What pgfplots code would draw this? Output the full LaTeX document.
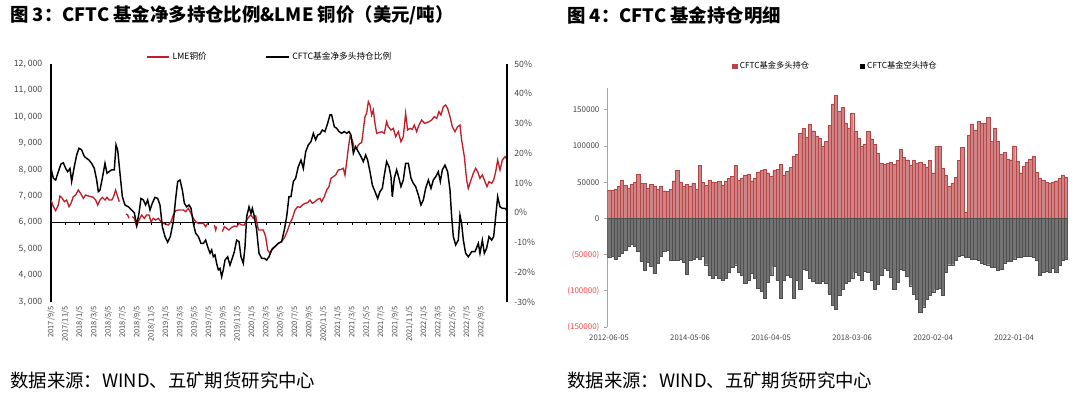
\documentclass[border=0pt]{standalone}
\usepackage{pgfplots}
\usepackage{pgfplotstable}
\pgfplotsset{compat=1.18}
\usepackage{fontspec}
\setmainfont{Noto Sans CJK SC}
\definecolor{lmered}{RGB}{192,30,40}
\definecolor{longfill}{RGB}{208,132,134}
\definecolor{longedge}{RGB}{180,70,72}
\definecolor{shortfill}{RGB}{115,115,115}
\definecolor{shortedge}{RGB}{78,78,78}
\definecolor{axgray}{RGB}{165,165,165}
\definecolor{negred}{RGB}{250,70,70}
\definecolor{lblgray}{RGB}{70,70,70}

\pgfplotstableread{
m p
0.00 6857
0.33 6605
0.65 6454
1.02 6668
1.25 7009
1.58 6920
1.86 6794
2.18 6857
2.51 6605
2.79 6731
3.11 6983
3.44 7046
3.81 7236
4.18 7084
4.51 6920
4.83 7046
5.21 7009
5.58 6983
5.90 6958
6.23 6857
6.51 6668
6.83 6857
7.16 6958
7.53 6857
7.81 6958
8.09 6857
8.46 6857
8.69 6958
9.02 7236
9.30 6983
9.53 6794
10.00 nan
10.46 6328
10.69 6290
10.88 6164
11.10 nan
11.34 6227
11.62 6164
11.95 5849
12.27 6101
12.65 6290
13.02 6164
13.34 6290
13.67 6290
13.95 6038
14.27 6164
14.60 6101
14.97 6164
15.34 6038
15.67 5975
15.99 5950
16.36 5912
16.74 6038
17.06 6290
17.39 6454
17.76 6479
18.13 6479
18.46 6479
18.78 6416
19.15 6542
19.53 6353
19.85 6164
20.18 6038
20.55 5975
20.92 5975
21.25 5975
21.57 5849
21.85 5975
22.30 nan
22.78 5912
22.97 5723
23.10 5849
23.50 nan
23.90 5660
24.18 5849
24.50 5786
24.83 5723
25.20 5824
25.57 5874
25.89 5849
26.22 5975
26.59 5912
26.96 5912
27.29 6101
27.62 6227
27.89 6290
28.22 6164
28.55 6252
28.92 5723
29.29 5723
29.61 5723
29.94 5471
30.22 4967
30.54 4840
30.87 5030
31.24 5093
31.70 5219
32.17 5282
32.63 5471
33.01 5723
33.33 5975
33.66 6164
34.03 6479
34.40 6605
34.73 6580
35.05 6668
35.42 6731
35.80 6757
36.12 6857
36.45 6731
36.82 6794
37.19 6883
37.52 6920
37.75 6794
38.12 6983
38.45 7236
38.77 7362
39.05 7677
39.38 7740
39.70 7803
40.07 7992
40.45 8017
40.77 8055
41.00 7803
41.24 8307
41.47 8811
41.70 9252
42.03 9126
42.30 8811
42.63 8811
42.86 8937
43.09 9000
43.33 9025
43.56 9504
43.79 10009
44.02 10135
44.26 10576
44.49 10450
44.72 10071
44.95 10261
45.19 9756
45.42 9378
45.74 9403
46.12 9441
46.49 9378
46.81 9819
47.05 9630
47.42 9504
47.74 9567
48.07 9252
48.44 9441
48.81 9063
49.14 9252
49.46 10135
49.74 9504
50.07 9567
50.39 9530
50.67 9693
51.00 9441
51.32 9693
51.70 9882
52.07 9756
52.39 9782
52.72 9819
53.09 9882
53.46 10009
53.79 9945
54.11 10198
54.39 10071
54.72 10387
55.04 10450
55.32 10324
55.65 10009
55.97 9630
56.34 9441
56.72 9630
57.04 9693
57.27 9126
57.65 8496
57.97 7614
58.20 7299
58.58 7614
58.90 7866
59.23 8055
59.51 7929
59.83 7677
60.16 7803
60.53 7551
60.81 7362
61.09 7551
61.46 7488
61.74 7614
62.02 7929
62.30 8370
62.62 7992
62.95 8370
63.32 8496
63.60 8395
}\lmedata

\pgfplotstableread{
m r
0.00 14.9
0.33 11.6
0.65 11.0
1.02 13.8
1.39 16.4
1.72 16.8
2.05 14.9
2.32 13.8
2.65 14.9
2.88 10.5
3.25 15.5
3.58 19.4
3.90 21.7
4.28 21.1
4.65 18.9
4.97 18.3
5.30 17.7
5.67 16.6
6.04 14.9
6.37 11.0
6.60 7.1
6.83 7.6
7.16 11.6
7.53 16.6
7.81 13.3
8.09 13.8
8.46 14.4
8.83 14.4
9.07 22.8
9.30 21.1
9.62 13.3
9.95 5.4
10.32 2.6
10.79 2.0
11.25 0.9
11.62 0.0
11.95 -4.1
12.27 -0.2
12.55 4.8
12.88 4.3
13.20 2.6
13.48 4.3
13.81 0.9
14.13 3.2
14.50 5.2
14.88 4.8
15.20 2.6
15.53 -4.7
15.90 -8.0
16.27 -9.9
16.64 -8.0
17.06 -3.0
17.39 4.8
17.67 10.5
17.99 11.0
18.32 7.6
18.60 3.2
18.92 2.0
19.25 2.6
19.53 1.5
19.85 -3.6
20.18 -6.9
20.55 -8.0
20.92 -10.3
21.25 -10.3
21.57 -9.2
21.85 -11.4
22.18 -13.6
22.41 -12.5
22.64 -14.8
22.87 -14.2
23.10 -17.0
23.34 -19.2
23.57 -18.7
23.80 -21.5
24.03 -19.2
24.27 -15.9
24.64 -14.8
24.96 -17.6
25.20 -15.9
25.57 -13.1
25.89 -9.2
26.22 -9.7
26.50 -14.8
26.82 -17.0
27.06 -11.4
27.29 -1.3
27.62 2.0
27.89 -0.2
28.08 1.5
28.36 -1.3
28.68 -5.8
29.01 -13.6
29.38 -15.3
29.75 -15.3
30.08 -15.9
30.40 -14.8
30.78 -12.5
31.24 -11.4
31.70 -10.3
32.17 -9.7
32.54 -5.8
32.87 -1.3
33.19 5.4
33.47 5.4
33.80 10.5
34.12 11.6
34.49 15.5
34.87 17.7
35.19 14.9
35.52 20.5
35.89 22.8
36.26 23.9
36.59 26.7
36.91 24.5
37.19 26.1
37.52 26.5
37.84 27.8
38.21 27.3
38.59 30.1
38.91 32.9
39.14 32.9
39.52 28.9
39.84 28.4
40.17 27.3
40.54 26.7
40.91 27.3
41.24 26.7
41.56 27.3
41.84 26.1
42.17 20.0
42.49 22.2
42.86 20.5
43.23 18.9
43.56 17.2
43.89 19.4
44.16 17.7
44.49 13.8
44.82 9.3
45.19 7.1
45.56 4.8
45.88 7.1
46.21 8.2
46.49 12.7
46.81 17.2
47.14 15.5
47.42 12.1
47.60 5.4
47.88 11.6
48.21 14.4
48.53 11.6
48.81 8.8
49.14 11.0
49.46 16.6
49.84 16.6
50.21 11.6
50.53 9.9
50.86 8.8
51.23 6.0
51.60 2.6
51.93 4.3
52.25 8.2
52.63 11.0
53.00 8.2
53.32 11.0
53.65 12.1
54.02 13.8
54.30 10.5
54.58 14.4
54.95 16.0
55.32 13.8
55.65 7.6
55.88 -1.3
56.11 -8.0
56.44 -10.8
56.81 -9.2
57.04 -0.8
57.27 -3.6
57.51 -9.2
57.83 -13.6
58.20 -14.8
58.67 -13.1
59.13 -13.1
59.60 -10.3
59.83 -13.6
60.16 -9.2
60.44 -13.6
60.76 -11.9
61.09 -8.0
61.46 -9.2
61.74 -8.0
62.02 -1.3
62.30 5.4
62.62 2.0
62.95 1.5
63.32 1.5
63.60 0.7
}\cftcratio

\pgfplotstableread{
w l s
0 39000 -54000
4 39000 -52000
8 40000 -56000
12 44000 -52000
16 53000 -48000
20 46000 -44000
24 41000 -38000
28 47000 -36000
32 50000 -38000
36 61000 -45000
40 48000 -59000
44 48000 -72000
48 42000 -60000
52 47000 -66000
56 45000 -76000
60 40000 -62000
64 45000 -52000
68 38000 -45000
72 38000 -44000
76 40000 -58000
80 52000 -58000
84 66000 -58000
88 50000 -56000
92 45000 -60000
96 47000 -77000
100 45000 -58000
104 49000 -57000
108 40000 -54000
112 73000 -57000
116 50000 -52000
120 46000 -64000
124 53000 -78000
128 50000 -82000
132 50000 -78000
136 51000 -83000
140 46000 -86000
144 51000 -83000
148 55000 -75000
152 58000 -68000
156 73000 -64000
160 53000 -74000
164 56000 -79000
168 60000 -90000
172 61000 -85000
176 52000 -76000
180 56000 -82000
184 64000 -96000
188 66000 -100000
192 68000 -110000
196 63000 -88000
200 58000 -78000
204 66000 -66000
208 68000 -85000
212 75000 -110000
216 60000 -86000
220 65000 -78000
224 70000 -81000
228 86000 -110000
232 88000 -85000
236 118000 -98000
240 124000 -70000
244 112000 -71000
248 130000 -83000
252 121000 -87000
256 114000 -89000
260 111000 -90000
264 100000 -87000
268 106000 -90000
272 128000 -105000
276 158000 -120000
280 170000 -125000
284 148000 -106000
288 153000 -98000
292 132000 -90000
296 125000 -87000
300 145000 -82000
304 120000 -74000
308 111000 -78000
312 100000 -86000
316 103000 -73000
320 120000 -74000
324 110000 -86000
328 102000 -98000
332 90000 -91000
336 76000 -78000
340 75000 -69000
344 76000 -72000
348 77000 -81000
352 75000 -98000
356 80000 -88000
360 95000 -70000
364 84000 -71000
368 81000 -80000
372 73000 -93000
376 80000 -105000
380 76000 -112000
384 77000 -130000
388 75000 -122000
392 71000 -112000
396 80000 -106000
400 63000 -102000
404 99000 -98000
408 100000 -97000
412 69000 -106000
416 60000 -75000
420 44000 -64000
424 49000 -64000
428 57000 -58000
432 80000 -52000
436 98000 -51000
440 9000 -53000
444 115000 -54000
448 130000 -56000
452 122000 -57000
456 134000 -58000
460 132000 -62000
464 132000 -63000
468 140000 -64000
472 106000 -67000
476 125000 -67000
480 107000 -72000
484 88000 -70000
488 91000 -62000
492 82000 -59000
496 81000 -59000
500 100000 -56000
504 79000 -54000
508 63000 -54000
512 72000 -52000
516 77000 -52000
520 82000 -52000
524 86000 -54000
528 64000 -58000
532 56000 -78000
536 53000 -75000
540 50000 -73000
544 48000 -75000
548 50000 -69000
552 52000 -75000
556 55000 -65000
560 60000 -58000
564 57000 -56000
}\cftcpos

\begin{document}
\begin{tikzpicture}[x=0.75pt,y=0.75pt]
\path[use as bounding box] (0,0) rectangle (1080,397);

% titles and sources
\node[anchor=west, inner sep=0, font=\bfseries\fontsize{13.8}{15}\selectfont] at (10,382) {图 3：CFTC 基金净多持仓比例\&LME 铜价（美元/吨）};
\node[anchor=west, inner sep=0, font=\bfseries\fontsize{13.8}{15}\selectfont] at (567,382) {图 4：CFTC 基金持仓明细};
\node[anchor=west, inner sep=0, font=\fontsize{13.8}{16}\selectfont] at (10,17) {数据来源：WIND、五矿期货研究中心};
\node[anchor=west, inner sep=0, font=\fontsize{13.8}{16}\selectfont] at (567,17) {数据来源：WIND、五矿期货研究中心};

% ===== Left panel: LME price =====
\begin{axis}[
  at={(38.25pt,71.25pt)}, anchor=south west,
  width=342pt, height=178.5pt, scale only axis,
  xmin=0, xmax=63.6, ymin=3000, ymax=12000,
  scaled y ticks=false,
  axis y line*=left, axis x line*=bottom,
  x axis line style={draw=none},
  y axis line style={black, line width=0.8pt, -},
  ytick={3000,4000,5000,6000,7000,8000,9000,10000,11000,12000},
  yticklabels={{3, 000},{4, 000},{5, 000},{6, 000},{7, 000},{8, 000},{9, 000},{10, 000},{11, 000},{12, 000}},
  ytick style={draw=none},
  yticklabel style={font=\fontsize{6.5}{7}\selectfont, text=lblgray, xshift=-3pt},
  xtick={0,2,...,60},
  xticklabels={2017/9/5,2017/11/5,2018/1/5,2018/3/5,2018/5/5,2018/7/5,2018/9/5,2018/11/5,2019/1/5,2019/3/5,2019/5/5,2019/7/5,2019/9/5,2019/11/5,2020/1/5,2020/3/5,2020/5/5,2020/7/5,2020/9/5,2020/11/5,2021/1/5,2021/3/5,2021/5/5,2021/7/5,2021/9/5,2021/11/5,2022/1/5,2022/3/5,2022/5/5,2022/7/5,2022/9/5,2022/11/5},
  xtick style={draw=none},
  xticklabel style={rotate=90, anchor=east, font=\fontsize{5.6}{6}\selectfont, text=lblgray},
  extra y ticks={6000}, extra y tick labels={},
  extra y tick style={grid=major, major grid style={black, line width=0.6pt}},
  unbounded coords=jump,
]
\addplot[lmered, line width=1.0pt] table[x=m, y=p] {\lmedata};
\pgfplotsinvokeforeach{2,4,...,62}{\draw[black, line width=0.5pt] (axis cs:#1,6000) -- (axis cs:#1,5900);}
\end{axis}

% ===== Left panel: CFTC ratio =====
\begin{axis}[
  at={(38.25pt,71.25pt)}, anchor=south west,
  width=342pt, height=178.5pt, scale only axis,
  xmin=0, xmax=63.6, ymin=-30, ymax=50,
  axis y line*=right, axis x line=none,
  y axis line style={black, line width=0.8pt, -},
  ytick={-30,-20,...,50},
  yticklabels={-30\%,-20\%,-10\%,0\%,10\%,20\%,30\%,40\%,50\%},
  ytick style={draw=none},
  yticklabel style={font=\fontsize{6.5}{7}\selectfont, text=lblgray, xshift=2pt},
  legend style={at={(0.48,1.03)}, anchor=center, draw=none, fill=none,
    font=\fontsize{6.5}{7}\selectfont, legend columns=2,
    /tikz/every even column/.append style={column sep=42pt}},
]
\addlegendimage{lmered, line width=1.0pt}
\addlegendentry{LME铜价}
\addplot[black, line width=1.1pt] table[x=m, y=r] {\cftcratio};
\addlegendentry{CFTC基金净多头持仓比例}
\end{axis}

% ===== Right panel =====
\begin{axis}[
  at={(455.6pt,52.5pt)}, anchor=south west,
  width=347.5pt, height=179.25pt, scale only axis,
  xmin=-2, xmax=570, ymin=-150000, ymax=180000,
  axis y line*=left, axis x line*=bottom,
  x axis line style={draw=none},
  y axis line style={axgray, line width=0.7pt, -},
  ytick={-150000,-100000,-50000,0,50000,100000,150000},
  yticklabels={{\color{negred}(150000)},{\color{negred}(100000)},{\color{negred}(50000)},0,50000,100000,150000},
  scaled y ticks=false,
  ytick style={axgray, line width=0.6pt}, tick align=outside, major tick length=2.5pt,
  yticklabel style={font=\fontsize{6}{7}\selectfont, text=lblgray},
  xtick={0,100,200,300,400,500},
  xticklabels={2012-06-05,2014-05-06,2016-04-05,2018-03-06,2020-02-04,2022-01-04},
  xtick style={draw=none},
  xticklabel style={font=\fontsize{5.8}{7}\selectfont, text=lblgray},
  ybar, bar width=2.43pt,
  legend style={at={(0.493,1.092)}, anchor=center, draw=none, fill=none,
    font=\fontsize{6.2}{7}\selectfont, legend columns=2,
    /tikz/every even column/.append style={column sep=36pt}},
]
\addplot[fill=longfill, draw=longedge, line width=0.3pt, bar shift=0pt,
  legend image code/.code={\fill[longedge] (0pt,-1.6pt) rectangle (3.2pt,1.6pt);}]
  table[x=w, y=l] {\cftcpos};
\addlegendentry{CFTC基金多头持仓}
\addplot[fill=shortfill, draw=shortedge, line width=0.3pt, bar shift=0pt,
  legend image code/.code={\fill[black] (0pt,-1.6pt) rectangle (3.2pt,1.6pt);}]
  table[x=w, y=s] {\cftcpos};
\addlegendentry{CFTC基金空头持仓}
\end{axis}
\end{tikzpicture}
\end{document}
